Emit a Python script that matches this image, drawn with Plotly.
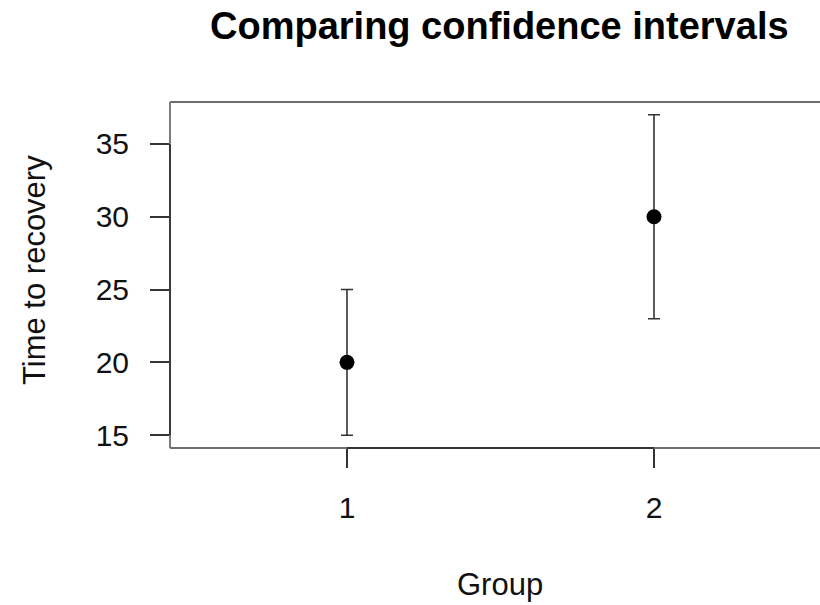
import plotly.graph_objects as go

groups = [1, 2]
means = [20, 30]
ci_half = [5, 7]
x_ticks = [1, 2]
x_tick_labels = ["1", "2"]
y_ticks = [15, 20, 25, 30, 35]
y_tick_labels = ["15", "20", "25", "30", "35"]

W, H = 820, 605
L, R, T, B = 170, 0, 102, 157
FONT = "Liberation Sans, Arial, sans-serif"
xr = [0.4235, 2.5407]
yr = [14.12, 37.88]

fig = go.Figure()
fig.add_trace(go.Scatter(
    x=groups, y=means, mode="markers",
    marker=dict(color="black", size=15, symbol="circle"),
    error_y=dict(type="data", array=ci_half, visible=True,
                 color="#333333", thickness=1.6, width=6),
    showlegend=False, cliponaxis=False,
))

box_col = "#6e6e6e"
axis_col = "#333333"
shapes = [
    dict(type="line", xref="paper", yref="paper", x0=0, x1=1, y0=1, y1=1,
         line=dict(color=box_col, width=1.8)),
    dict(type="line", xref="paper", yref="paper", x0=0, x1=0, y0=0, y1=1,
         line=dict(color=box_col, width=1.8)),
    dict(type="line", xref="paper", yref="paper", x0=0, x1=1, y0=0, y1=0,
         line=dict(color=box_col, width=1.8)),
    dict(type="line", xref="x", yref="paper", x0=x_ticks[0], x1=x_ticks[-1], y0=0, y1=0,
         line=dict(color=axis_col, width=1.8)),
    dict(type="line", xref="paper", yref="y", x0=0, x1=0, y0=y_ticks[0], y1=y_ticks[-1],
         line=dict(color=axis_col, width=1.8)),
]


def px_to_paper(px_x, px_y):
    return (px_x - L) / (W - L - R), 1 - (px_y - T) / (H - T - B)


tx, ty = px_to_paper(499, 26)
gx, gy = px_to_paper(500, 584)
yx, yy = px_to_paper(34, 270)

fig.update_layout(
    width=W, height=H,
    margin=dict(l=L, r=R, t=T, b=B),
    paper_bgcolor="white", plot_bgcolor="white",
    font=dict(family=FONT, color="black"),
    shapes=shapes,
    xaxis=dict(range=xr, tickvals=x_ticks, ticktext=x_tick_labels,
               showgrid=False, zeroline=False, showline=False,
               ticks="outside", ticklen=19, tickwidth=1.6, tickcolor=axis_col,
               tickfont=dict(size=30, family=FONT, color="#111111"),
               ticklabelstandoff=14),
    yaxis=dict(range=yr, tickvals=y_ticks, ticktext=y_tick_labels,
               showgrid=False, zeroline=False, showline=False,
               ticks="outside", ticklen=19, tickwidth=1.6, tickcolor=axis_col,
               tickfont=dict(size=30, family=FONT, color="#111111"),
               ticklabelstandoff=15),
    annotations=[
        dict(text="<b>Comparing confidence intervals</b>", xref="paper", yref="paper",
             x=tx, y=ty, xanchor="center", yanchor="middle", showarrow=False,
             font=dict(size=38, family=FONT, color="black")),
        dict(text="Group", xref="paper", yref="paper",
             x=gx, y=gy, xanchor="center", yanchor="middle", showarrow=False,
             font=dict(size=31, family=FONT, color="#111111")),
        dict(text="Time to recovery", xref="paper", yref="paper",
             x=yx, y=yy, xanchor="center", yanchor="middle", showarrow=False,
             textangle=-90, font=dict(size=31, family=FONT, color="#111111")),
    ],
)

fig.write_html("out.html", config={"displayModeBar": False},
               post_script="document.body.style.margin='0';")
